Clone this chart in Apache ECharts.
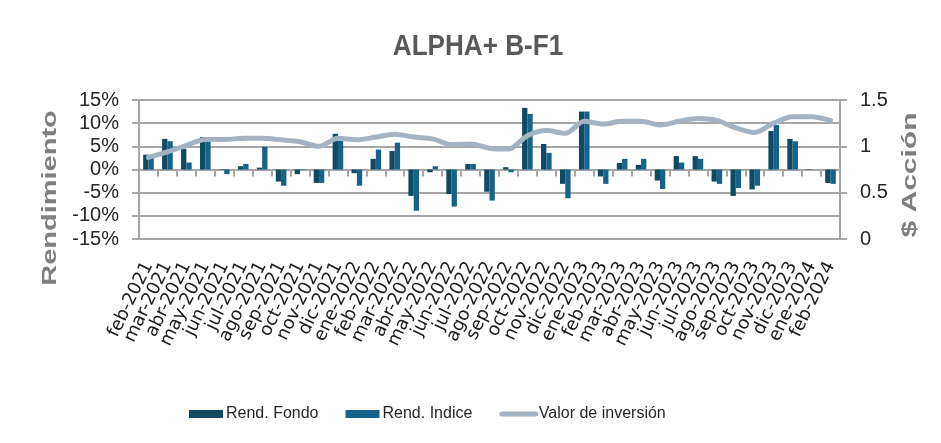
<!DOCTYPE html>
<html>
<head>
<meta charset="utf-8">
<script src="https://cdn.jsdelivr.net/npm/echarts@6/dist/echarts.min.js"></script>
<style>
html,body{margin:0;padding:0;background:#fff;}
#c{width:941px;height:443px;}
</style>
</head>
<body>
<div id="c"></div>
<script>
const categories = ['feb-2021','mar-2021','abr-2021','may-2021','jun-2021','jul-2021','ago-2021','sep-2021','oct-2021','nov-2021','dic-2021','ene-2022','feb-2022','mar-2022','abr-2022','may-2022','jun-2022','jul-2022','ago-2022','sep-2022','oct-2022','nov-2022','dic-2022','ene-2023','feb-2023','mar-2023','abr-2023','may-2023','jun-2023','jul-2023','ago-2023','sep-2023','oct-2023','nov-2023','dic-2023','ene-2024','feb-2024'];
const rendFondo = [3.2,6.6,4.5,7.0,0.1,0.7,0.4,-2.6,-1.0,-2.9,7.7,-0.8,2.3,4.0,-5.7,-0.6,-5.3,1.2,-4.8,0.5,13.3,5.5,-3.1,12.5,-1.5,1.4,1.0,-2.4,2.9,2.9,-2.6,-5.7,-4.3,8.3,6.6,0.1,-2.9];
const rendIndice = [2.9,6.1,1.5,6.8,-1.0,1.2,4.9,-3.5,-0.1,-2.9,6.2,-3.5,4.3,5.8,-8.9,0.7,-8.0,1.2,-6.7,-0.6,12.0,3.6,-6.2,12.5,-3.1,2.3,2.3,-4.2,1.5,2.3,-3.1,-4.0,-3.5,9.6,6.1,0.0,-3.1];
const valorInversion = [0.88,0.94,1.01,1.075,1.075,1.086,1.086,1.07,1.05,1.0,1.086,1.07,1.10,1.13,1.10,1.08,1.02,1.025,0.98,0.97,1.115,1.17,1.14,1.27,1.24,1.27,1.27,1.23,1.27,1.30,1.28,1.20,1.15,1.25,1.32,1.32,1.28];
const leftTicks = {min:-15, max:15, interval:5};
const rightTicks = {min:0, max:1.5, interval:0.5};

const GRID = '#A6A6A6';
const LINE = '#A3B3C2';
const chart = echarts.init(document.getElementById('c'), null, {renderer:'canvas'});
chart.setOption({
  backgroundColor:'#fff',
  animation:false,
  grid:{left:139, right:101, top:100, bottom:204, containLabel:false},
  legend:{
    left:184, top:401, itemWidth:34, itemHeight:8, itemGap:27,
    textStyle:{fontFamily:'Liberation Sans', fontSize:16, color:'#262626', padding:[0,0,0,-2]},
    data:[
      {name:'Rend. Fondo', icon:'rect'},
      {name:'Rend. Indice', icon:'rect'},
      {name:'Valor de inversión', itemStyle:{opacity:0}, lineStyle:{color:LINE, width:5, opacity:1, cap:'round'}}
    ]
  },
  xAxis:[
    {
      type:'category', data:categories, position:'bottom',
      axisLine:{show:false, onZero:false}, axisTick:{show:false},
      axisLabel:{interval:0, rotate:64, margin:24, fontFamily:'DejaVu Sans', fontSize:18, color:'#1a1a1a'}
    },
    {
      type:'category', data:categories, position:'bottom',
      axisLine:{show:true, onZero:true, onZeroAxisIndex:0, lineStyle:{color:GRID, width:2}},
      axisTick:{show:true, interval:0, length:7, lineStyle:{color:GRID, width:2}},
      axisLabel:{show:false, interval:0}
    }
  ],
  yAxis:[
    {
      type:'value', min:leftTicks.min, max:leftTicks.max, interval:leftTicks.interval,
      axisLine:{show:true, lineStyle:{color:GRID, width:2}},
      axisTick:{show:true, length:7, lineStyle:{color:GRID, width:2}},
      axisLabel:{formatter:'{value}%', margin:20, fontFamily:'Liberation Sans', fontSize:20, color:'#262626'},
      splitLine:{lineStyle:{color:GRID, width:2}}
    },
    {
      type:'value', min:rightTicks.min, max:rightTicks.max, interval:rightTicks.interval,
      position:'right',
      axisLine:{show:true, lineStyle:{color:GRID, width:2}},
      axisTick:{show:true, length:7, lineStyle:{color:GRID, width:2}},
      axisLabel:{margin:20, fontFamily:'Liberation Sans', fontSize:20, color:'#262626'},
      splitLine:{show:false}
    }
  ],
  graphic:[
    {type:'text', x:478, y:47, scaleX:0.87,
     style:{text:'ALPHA+ B-F1', fontFamily:'Liberation Sans', fontWeight:'bold', fontSize:30, fill:'#595959', align:'center', verticalAlign:'middle'}},
    {type:'text', x:50, y:198, rotation:Math.PI/2, scaleX:1.45,
     style:{text:'Rendimiento', fontFamily:'Liberation Sans', fontWeight:'bold', fontSize:20, fill:'#7F7F7F', align:'center', verticalAlign:'middle'}},
    {type:'text', x:910, y:175, rotation:Math.PI/2, scaleX:1.5,
     style:{text:'$ Acción', fontFamily:'Liberation Sans', fontWeight:'bold', fontSize:20, fill:'#7F7F7F', align:'center', verticalAlign:'middle'}}
  ],
  series:[
    {name:'Rend. Fondo', type:'bar', data:rendFondo, xAxisIndex:0, yAxisIndex:0,
     barGap:'0%', barCategoryGap:'44%', itemStyle:{color:'#0F4A62'}, z:2},
    {name:'Rend. Indice', type:'bar', data:rendIndice, xAxisIndex:0, yAxisIndex:0,
     barGap:'0%', barCategoryGap:'44%', itemStyle:{color:'#16628A'}, z:2},
    {name:'Valor de inversión', type:'line', data:valorInversion, xAxisIndex:0, yAxisIndex:1,
     symbol:'none', showSymbol:false, smooth:0.3,
     lineStyle:{color:LINE, width:5, cap:'round', join:'round'}, itemStyle:{color:LINE}, z:5}
  ]
});
</script>
</body>
</html>
